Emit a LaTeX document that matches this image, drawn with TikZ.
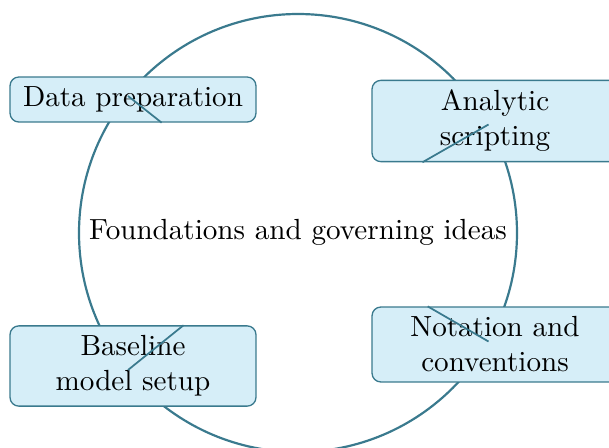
\documentclass[tikz,border=0pt]{standalone}
\begin{document}
\definecolor{teal1}{RGB}{58,122,142}
\definecolor{boxfill}{RGB}{214,238,248}
\begin{tikzpicture}[x=0.3432pt,y=-0.3432pt,
  box/.style={draw=teal1,fill=boxfill,rounded corners=3pt,align=center,minimum width=84.4pt,line width=0.45pt},
  ring/.style={draw=teal1,line width=0.75pt},
  link/.style={draw=teal1,line width=0.6pt}]
\useasboundingbox (0,0) rectangle (609,448);
\coordinate (C) at (298,233);
\draw[ring] (C) circle [radius=75.16pt];
\node (mid) at (298,232) {Foundations and governing ideas};
\node[box] (A) at (133,99.5) {Data preparation};
\node[box] (B) at (495,121) {Analytic\\scripting};
\node[box] (D) at (133,366) {Baseline\\model setup};
\node[box] (N) at (495,344.5) {Notation and\\conventions};
\coordinate (pA) at (128,96);
\coordinate (pB) at (488.5,124.5);
\coordinate (pD) at (128,370);
\coordinate (pN) at (488.5,341.5);
\path (A) -- coordinate[pos=0] (Ab) (C);
\path (B) -- coordinate[pos=0] (Bb) (C);
\path (D) -- coordinate[pos=0] (Db) (C);
\path (N) -- coordinate[pos=0] (Nb) (C);
\draw[link] (pA) -- (Ab);
\draw[link] (pB) -- (Bb);
\draw[link] (pD) -- (Db);
\draw[link] (pN) -- (Nb);
\end{tikzpicture}
\end{document}
